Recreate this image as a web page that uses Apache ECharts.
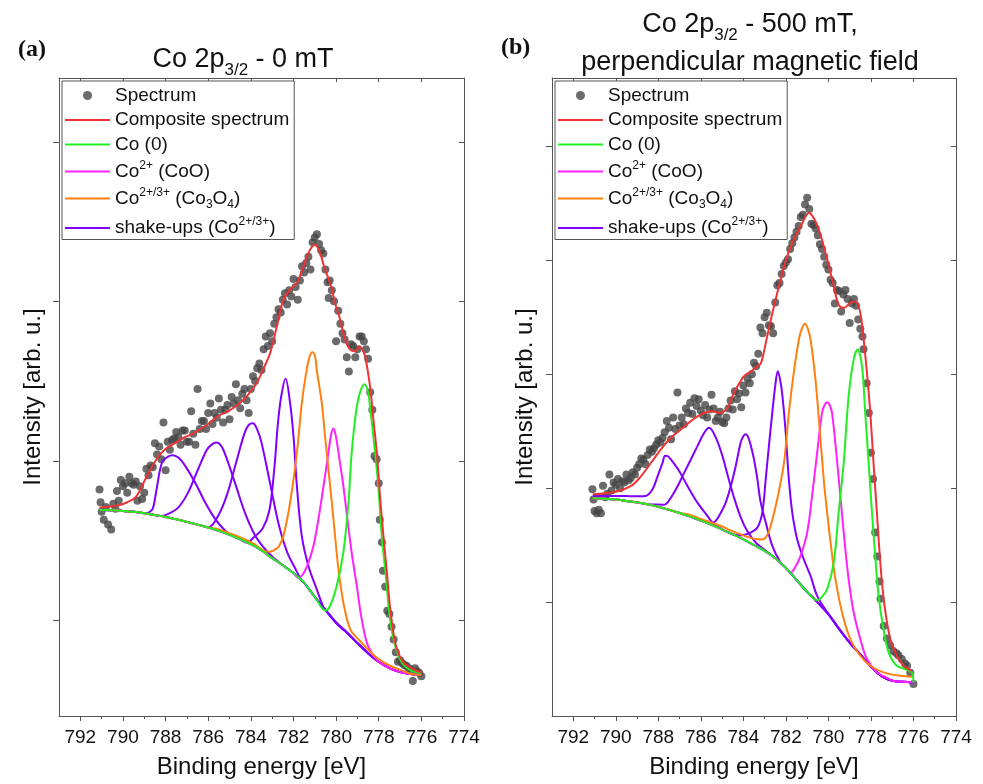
<!DOCTYPE html>
<html><head><meta charset="utf-8">
<script src="https://cdn.jsdelivr.net/npm/echarts@6/dist/echarts.min.js"></script>
<style>html,body{margin:0;padding:0;background:#fff}#c{width:983px;height:784px}</style>
</head><body><div id="c"></div>
<script>
// ---------- tick labels ----------
const energyTicks = [774,776,778,780,782,784,786,788,790,792];
const energyMinor = [775,777,779,781,783,785,787,789,791];
const intensityTicksA = [0,100,200,300];
const intensityTicksB = [100,200,300,400,500];

// ---------- panel (a) : 0 mT ----------
const spectrumA = [[791.1,82],[791.05,74],[791.0,68],[790.9,63],[790.8,71],[790.7,60],[790.55,57],[790.45,73],[790.35,70],[790.28,81],[790.2,75],[790.1,88],[790.0,84],[789.9,86],[789.8,80],[789.7,90],[789.6,86],[789.5,85],[789.4,87],[789.32,75],[789.2,84],[789.1,76],[789.0,80],[788.9,95],[788.8,91],[788.7,97],[788.6,96],[788.5,111],[788.4,104],[788.3,109],[788.2,101],[788.1,124],[788.0,94],[787.9,112],[787.8,107],[787.7,113],[787.6,114],[787.5,118],[787.4,115],[787.3,110],[787.2,119],[787.1,119],[787.0,112],[786.9,112],[786.8,131],[786.7,117],[786.6,110],[786.5,145],[786.4,120],[786.3,125],[786.2,125],[786.1,120],[786.0,130],[785.9,136],[785.8,123],[785.7,130],[785.6,127],[785.5,139],[785.4,132],[785.3,124],[785.2,132],[785.1,135],[785.0,126],[784.9,140],[784.8,136],[784.7,148],[784.6,138],[784.5,133],[784.4,142],[784.3,145],[784.2,138],[784.1,130],[784.0,145],[783.9,153],[783.8,150],[783.7,158],[783.6,161],[783.5,157],[783.4,170],[783.3,178],[783.2,172],[783.1,180],[783.0,175],[782.9,186],[782.8,190],[782.7,195],[782.6,193],[782.5,201],[782.4,205],[782.3,198],[782.2,207],[782.1,203],[782.0,214],[781.9,209],[781.8,201],[781.7,213],[781.6,222],[781.5,218],[781.4,224],[781.3,228],[781.2,220],[781.1,237],[781.0,240],[780.9,242],[780.8,236],[780.7,232],[780.6,230],[780.5,220],[780.4,212],[780.35,202],[780.3,213],[780.2,207],[780.1,200],[780.0,175],[779.9,194],[779.8,186],[779.7,180],[779.6,176],[779.5,165],[779.4,156],[779.3,173],[779.2,172],[779.1,165],[779.0,170],[778.9,178],[778.8,178],[778.7,175],[778.6,170],[778.5,164],[778.4,143],[778.3,132],[778.2,103],[778.1,101],[778.0,86],[777.95,63],[777.85,49],[777.8,31],[777.7,21],[777.6,6],[777.5,4],[777.4,-4],[777.3,-12],[777.2,-20],[777.1,-26],[777.0,-25],[776.9,-27],[776.8,-28],[776.7,-28.5],[776.6,-30],[776.5,-31],[776.4,-38],[776.3,-30],[776.2,-32],[776.1,-33],[776.0,-35]];
const compositeA = [[791.1,70.7],[790.6,71.3],[790.2,72.1],[789.8,74],[789.42,77],[789.2,81.5],[788.95,88.4],[788.7,94.5],[788.48,99.9],[788.25,104],[788.02,107.2],[787.7,110],[787.39,112.4],[787.08,115],[786.77,116.6],[786.45,119.2],[786.14,121.8],[785.83,125],[785.52,128.1],[785.05,131.2],[784.58,135.4],[784.11,141.7],[783.72,149],[783.4,158],[783.09,167.7],[782.78,184.4],[782.47,201.1],[782.16,207.3],[781.84,211.5],[781.53,221.9],[781.22,232.4],[780.98,235.5],[780.75,230.2],[780.52,219.8],[780.28,211.5],[780.05,199],[779.81,188.5],[779.58,176],[779.34,169.7],[779.11,168.7],[778.91,171.8],[778.78,170],[778.64,165.6],[778.41,146.8],[778.25,125.9],[778.09,105.1],[777.94,77.9],[777.78,52.9],[777.63,32],[777.44,4.9],[777.19,-16],[776.84,-26.4],[776.38,-30.6],[775.98,-32.7]];
const backgroundA = [[791.1,69.3],[790.5,69.0],[790.0,68.6],[789.5,68.0],[789.0,67.1],[788.5,66.0],[788.0,64.8],[787.5,63.3],[787.0,61.7],[786.5,60.0],[786.0,58.2],[785.5,56.0],[785.0,53.6],[784.5,50.8],[784.0,47.7],[783.5,43.8],[783.0,39.0],[782.5,34.5],[782.0,29.6],[781.5,23.5],[781.0,14.7],[780.5,6.5],[780.0,-1.5],[779.5,-7.6],[779.0,-14.3],[778.5,-20.6],[778.0,-26.0],[777.5,-30.0],[777.0,-32.5],[776.5,-33.7],[776.0,-34.2]];
const co0A = [[780.5,6.2],[780.28,9.1],[779.97,21.6],[779.66,42.5],[779.42,73.7],[779.27,105],[779.03,134],[778.85,144],[778.67,148],[778.5,143],[778.41,134],[778.17,105],[778.02,84],[777.86,53],[777.7,32],[777.47,1],[777.23,-16],[776.92,-26.4],[776.53,-31.2],[776.0,-33.2]];
const coOA = [[781.77,26.5],[781.53,29.5],[781.3,36.2],[781.06,46.7],[780.83,63.4],[780.59,84.2],[780.36,105.1],[780.24,116],[780.13,120.2],[780.02,116],[779.89,105.1],[779.66,84.2],[779.47,63.4],[779.27,42.5],[779.03,21.6],[778.8,0.7],[778.56,-13.9],[778.33,-20.5],[778.1,-24.5]];
const co3o4A = [[785.5,57],[784.5,52],[784.0,49],[783.6,45.5],[783.3,43.2],[783.09,43],[782.85,44.5],[782.7,46],[782.47,53],[782.16,73.7],[781.84,105],[781.61,136],[781.38,157],[781.24,165.5],[781.11,168],[780.98,165],[780.91,157],[780.67,136],[780.52,115.5],[780.36,94.6],[780.2,73.7],[780.05,53],[779.89,32],[779.66,11.2],[779.34,-5.5],[778.95,-12],[778.56,-17.5],[778.09,-23.5],[777.47,-28.5],[776.8,-32]];
const shake1A = [[784.2,48.7],[783.83,52.5],[783.44,57.7],[783.13,69],[782.9,95],[782.74,122],[782.58,140],[782.37,151.5],[782.16,136.3],[782.0,115.5],[781.84,84.2],[781.61,52.9],[781.3,34.1],[780.91,19.5],[780.59,8]];
const shake2A = [[786.0,58.2],[785.5,66.4],[785.1,79.5],[784.7,98.5],[784.3,117.2],[784.1,122.5],[783.9,123.6],[783.7,119.5],[783.5,111.4],[783.1,86],[782.7,60.6],[782.3,42.9],[781.9,32],[781.6,24.5]];
const shake3A = [[788.2,65.4],[787.87,66.8],[787.42,70.5],[786.97,79.4],[786.52,93.3],[786.07,106.8],[785.85,110],[785.62,111.4],[785.4,109.5],[785.17,102.8],[784.72,85.2],[784.27,67.2],[783.82,53.7],[783.37,45.2],[783.0,40]];
const shake4A = [[788.8,67.5],[788.6,70],[788.45,80],[788.17,98.9],[787.9,102.5],[787.67,103.5],[787.4,102],[787.08,96.8],[786.61,86.3],[786.14,73.8],[785.67,63.4],[785.2,56.1],[784.9,53.2]];

// ---------- panel (b) : 500 mT ----------
const spectrumB = [[791.1,199],[791.05,190],[791.0,180],[790.9,178],[790.8,181],[790.7,178],[790.6,202],[790.5,192],[790.4,195],[790.3,212],[790.2,198],[790.1,205],[790.0,203],[789.9,208],[789.8,200],[789.7,206],[789.6,205],[789.5,212],[789.4,207],[789.3,209],[789.2,214],[789.1,212],[789.0,218],[788.9,221],[788.8,226],[788.7,225],[788.6,221],[788.5,229],[788.4,234],[788.3,232],[788.2,235],[788.1,238],[788.0,242],[787.9,240],[787.8,244],[787.7,249],[787.6,259],[787.5,253],[787.4,243],[787.3,262],[787.2,252],[787.1,284],[787.0,255],[786.9,262],[786.8,256],[786.7,270],[786.6,266],[786.5,275],[786.4,265],[786.3,279],[786.2,272],[786.1,278],[786.0,268],[785.9,264],[785.8,273],[785.7,262],[785.6,269],[785.5,282],[785.4,270],[785.3,259],[785.2,262],[785.1,267],[785.0,258],[784.9,257],[784.8,262],[784.7,270],[784.6,277],[784.5,269],[784.4,285],[784.3,278],[784.2,283],[784.1,271],[784.0,290],[783.9,284],[783.8,296],[783.7,292],[783.6,300],[783.5,310],[783.4,307],[783.3,318],[783.2,341],[783.1,336],[783.0,350],[782.9,354],[782.8,343],[782.7,342],[782.6,336],[782.5,363],[782.4,378],[782.3,380],[782.2,388],[782.1,395],[782.0,398],[781.9,401],[781.8,410],[781.7,415],[781.6,420],[781.5,425],[781.4,430],[781.3,438],[781.2,440],[781.1,449],[781.0,455],[780.9,445],[780.8,432],[780.7,431],[780.6,428],[780.5,422],[780.4,414],[780.3,410],[780.2,403],[780.1,396],[780.0,392],[779.9,383],[779.8,380],[779.7,362],[779.6,374],[779.5,373],[779.4,355],[779.3,370],[779.2,374],[779.1,366],[779.0,345],[778.9,362],[778.8,366],[778.7,360],[778.6,348],[778.5,340],[778.4,333],[778.35,322],[778.2,292],[778.1,266],[778.0,231],[777.9,208],[777.8,161],[777.7,140],[777.6,118],[777.55,103],[777.4,79],[777.25,68],[777.1,62],[776.95,57],[776.8,55],[776.7,53],[776.55,50],[776.4,46],[776.3,44],[776.15,38],[776.0,28]];
const compositeB = [[791.08,194.6],[790.06,196.6],[789.28,201.9],[788.81,210.6],[788.34,222.3],[787.88,234],[787.41,244.2],[786.94,251.5],[786.47,258.8],[786.0,264.7],[785.53,267.6],[785.06,266.1],[784.75,270.5],[784.44,283.7],[784.13,293.9],[783.97,298.3],[783.6,303],[783.34,307],[783.19,309],[783.03,320],[782.88,333.3],[782.56,359.6],[782.25,383],[781.94,403.4],[781.63,418],[781.23,432.6],[780.92,441.4],[780.69,437],[780.45,426.8],[780.22,412.2],[779.98,394.7],[779.75,377.2],[779.52,361.1],[779.28,358.2],[778.97,362.6],[778.73,364],[778.5,353.8],[778.31,324.6],[778.16,295.4],[778.03,266.1],[777.88,222.3],[777.72,178.5],[777.56,134.7],[777.38,99.6],[777.09,67.5],[776.78,52.9],[776.47,44.1],[776.08,39.7]];
const backgroundB = [[791.1,191.2],[790.5,190.6],[790.0,190.0],[789.5,188.8],[789.0,187.5],[788.5,185.8],[788.0,183.6],[787.5,181.0],[787.0,178.2],[786.5,175.0],[786.0,171.5],[785.5,167.8],[785.0,163.8],[784.5,159.5],[784.0,155.0],[783.5,150.0],[783.0,145.0],[782.5,138.5],[782.0,130.0],[781.5,119.5],[781.0,109.0],[780.5,99.5],[780.0,89.5],[779.5,76.5],[779.0,64.5],[778.5,54.0],[778.0,43.5],[777.5,35.0],[777.0,31.0],[776.5,30.0],[776.0,29.5]];
const co0B = [[780.53,101.5],[780.3,104.5],[780.06,111.3],[779.75,134.7],[779.52,178.5],[779.28,222.3],[779.05,280.7],[778.81,313],[778.63,321.6],[778.42,307],[778.27,266.1],[778.11,222.3],[777.95,178.5],[777.8,140.5],[777.64,105.5],[777.41,76.2],[777.17,55.8],[776.78,44.1],[776.08,38.3]];
const coOB = [[781.78,126],[781.55,131],[781.31,140.5],[781.0,161],[780.77,193.1],[780.53,231.1],[780.3,266.1],[780.18,273],[780.06,275.5],[779.94,273],[779.83,266.1],[779.63,231.1],[779.44,193.1],[779.25,155.1],[779.05,120.1],[778.81,90.9],[778.5,67.5],[778.19,50],[777.72,38.3],[777.2,33]];
const co3o4B = [[786.5,176.5],[786.0,173],[785.0,166.3],[784.5,162],[784.0,158.5],[783.5,155.5],[783.1,155],[782.9,158],[782.72,166.6],[782.41,190],[782.09,222.3],[781.86,266.1],[781.63,301.2],[781.39,330.4],[781.25,340],[781.11,344.4],[780.97,340],[780.84,330.4],[780.61,295.4],[780.41,251.5],[780.22,207.7],[780.06,178.5],[779.88,149.3],[779.67,120.1],[779.36,90.9],[778.97,67.5],[778.5,52.9],[778.03,44.1],[777.41,38.3],[776.63,35.3],[776.05,34.5]];
const shake1B = [[784.13,158.6],[783.66,161],[783.34,165.4],[783.11,178.5],[782.95,207.7],[782.8,236.9],[782.64,266.1],[782.5,290],[782.38,302.7],[782.27,295],[782.17,282],[782.02,251.5],[781.86,207.7],[781.7,178.5],[781.47,155.1],[781.16,137.6],[780.84,123],[780.53,105.5]];
const shake2B = [[785.45,169.7],[785.3,171.2],[785.06,178.5],[784.83,187.3],[784.59,201.9],[784.36,219.4],[784.13,239.9],[784.0,245.5],[783.89,247.2],[783.78,245],[783.66,238],[783.5,225.3],[783.34,207.7],[783.19,188],[782.95,170],[782.64,149.3],[782.25,134.7]];
const shake3B = [[788.1,185.6],[787.72,185.5],[787.41,191.6],[787.09,201.9],[786.78,213.6],[786.47,225.2],[786.16,236.9],[785.84,248.6],[785.61,253],[785.31,245],[785.01,229.7],[784.71,209.3],[784.41,189.9],[784.11,173.7],[783.81,162.1],[783.41,152.1],[783.0,145.8]];
const shake4B = [[791.08,193],[790.5,193.2],[790.0,193.2],[789.5,193],[789.0,192.8],[788.7,192.8],[788.5,194],[788.27,199],[788.03,210.6],[787.8,222.3],[787.68,228.5],[787.55,228],[787.41,225.2],[787.02,215],[786.63,201.9],[786.16,187.3],[785.69,175.6],[785.45,169.7]];

// ---------- styling ----------
const FONT = 'Liberation Sans, Arial, sans-serif';
const C = { spec:'#464646', comp:'#ee3333', co0:'#22ee22', coo:'#ff22ff', co3o4:'#ff8010', shake:'#8000ff', axis:'#555' };
const NAMES = { spec:'Spectrum', comp:'Composite spectrum', co0:'Co (0)', coo:'Co2+ (CoO)', co3o4:'Co2+/3+ (Co3O4)', shake:'shake-ups (Co2+/3+)' };
const legendRich = {
  'Spectrum':'{n|Spectrum}',
  'Composite spectrum':'{n|Composite spectrum}',
  'Co (0)':'{n|Co (0)}',
  'Co2+ (CoO)':'{n|Co}{sup|2+}{n| (CoO)}',
  'Co2+/3+ (Co3O4)':'{n|Co}{sup|2+/3+}{n| (Co}{sub|3}{n|O}{sub|4}{n|)}',
  'shake-ups (Co2+/3+)':'{n|shake-ups (Co}{sup|2+/3+}{n|)}'
};
const LINE_ICON = 'path://M0,0H45V2H0Z';

// component curve = background outside the peak's span + the peak's own points
function withBackground(bg, peak) {
  const xs = peak.map(p => p[0]);
  const lo = Math.min(...xs), hi = Math.max(...xs);
  return bg.filter(p => p[0] > hi + 0.05 || p[0] < lo - 0.05).concat(peak).sort((a, b) => b[0] - a[0]);
}

function panelSeries(k, spec, comp, bg, co0, coo, co3o4, shakes) {
  const ax = { xAxisIndex: 3 * k, yAxisIndex: 2 * k };
  const line = (name, color, data, z) => Object.assign({
    type: 'line', name, data, smooth: 0.35, symbol: 'none', showSymbol: false,
    lineStyle: { color, width: 2 }, itemStyle: { color, borderWidth: 0 }, z, silent: true
  }, ax);
  const out = [];
  out.push(Object.assign({ type: 'scatter', name: NAMES.spec, data: spec, symbol: 'circle', symbolSize: 8,
    itemStyle: { color: C.spec }, z: 2, silent: true }, ax));
  shakes.forEach(s => out.push(line(NAMES.shake, C.shake, withBackground(bg, s), 3)));
  out.push(line(NAMES.coo, C.coo, withBackground(bg, coo), 4));
  out.push(line(NAMES.co3o4, C.co3o4, withBackground(bg, co3o4), 5));
  out.push(line(NAMES.co0, C.co0, withBackground(bg, co0), 6));
  out.push(line(NAMES.comp, C.comp, comp, 7));
  return out;
}

function xAxes(grid) {
  const common = { gridIndex: grid, type: 'value', min: 774, max: 793, inverse: true, splitLine: { show: false } };
  return [
    Object.assign({}, common, {
      position: 'bottom',
      axisLine: { show: true, onZero: false, lineStyle: { color: C.axis, width: 1 } },
      axisTick: { show: true, inside: false, length: 5, customValues: energyTicks, lineStyle: { color: C.axis } },
      axisLabel: { show: true, customValues: energyTicks, fontSize: 19, color: '#111', margin: 12, fontFamily: FONT },
      name: 'Binding energy [eV]', nameLocation: 'middle', nameGap: 39,
      nameTextStyle: { fontSize: 24, color: '#111', fontFamily: FONT }
    }),
    Object.assign({}, common, {
      position: 'bottom',
      axisLine: { show: false, onZero: false },
      axisTick: { show: true, inside: false, length: 3, customValues: energyMinor, lineStyle: { color: C.axis } },
      axisLabel: { show: false }
    }),
    Object.assign({}, common, {
      position: 'top',
      axisLine: { show: true, onZero: false, lineStyle: { color: C.axis, width: 1 } },
      axisTick: { show: true, inside: true, length: 4, customValues: energyTicks, lineStyle: { color: C.axis } },
      axisLabel: { show: false }
    })
  ];
}
function yAxes(grid, min, max, ticks, gap) {
  const common = { gridIndex: grid, type: 'value', min, max, splitLine: { show: false } };
  return [
    Object.assign({}, common, {
      position: 'left',
      axisLine: { show: true, onZero: false, lineStyle: { color: C.axis, width: 1 } },
      axisTick: { show: true, inside: false, length: 6, customValues: ticks, lineStyle: { color: C.axis } },
      axisLabel: { show: false },
      name: 'Intensity [arb. u.]', nameLocation: 'middle', nameGap: gap, nameRotate: 90,
      nameTextStyle: { fontSize: 24, color: '#111', fontFamily: FONT }
    }),
    Object.assign({}, common, {
      position: 'right',
      axisLine: { show: true, onZero: false, lineStyle: { color: C.axis, width: 1 } },
      axisTick: { show: true, inside: true, length: 5, customValues: ticks, lineStyle: { color: C.axis } },
      axisLabel: { show: false }
    })
  ];
}
function legendFor(left) {
  return {
    orient: 'vertical', left, top: 81, padding: [5, 5, 2, 3], itemGap: 5.5,
    itemWidth: 45, itemHeight: 9, selectedMode: false, symbolKeepAspect: true,
    backgroundColor: '#fff', borderColor: '#555', borderWidth: 1, borderRadius: 0,
    itemStyle: { borderWidth: 0 },
    data: [
      { name: NAMES.spec, icon: 'circle' },
      { name: NAMES.comp, icon: LINE_ICON },
      { name: NAMES.co0, icon: LINE_ICON },
      { name: NAMES.coo, icon: LINE_ICON },
      { name: NAMES.co3o4, icon: LINE_ICON },
      { name: NAMES.shake, icon: LINE_ICON }
    ],
    formatter: n => legendRich[n],
    textStyle: {
      rich: {
        n: { fontSize: 19, lineHeight: 24, color: '#111', fontFamily: FONT },
        sup: { fontSize: 12, lineHeight: 12, verticalAlign: 'top', color: '#111', fontFamily: FONT },
        sub: { fontSize: 12, lineHeight: 12, verticalAlign: 'bottom', color: '#111', fontFamily: FONT }
      }
    }
  };
}
const titleRich = {
  n: { fontSize: 27, lineHeight: 38, color: '#111', fontFamily: FONT, fontWeight: 'normal' },
  sub: { fontSize: 17, lineHeight: 22, verticalAlign: 'bottom', color: '#111', fontFamily: FONT, fontWeight: 'normal' }
};

const chart = echarts.init(document.getElementById('c'), null, { renderer: 'canvas' });
chart.setOption({
  animation: false,
  backgroundColor: '#fff',
  title: [
    { text: '{n|Co 2p}{sub|3/2}{n| - 0 mT}', left: 238, top: 36, textAlign: 'center', textStyle: { fontWeight: 'normal', rich: titleRich } },
    { text: '{n|Co 2p}{sub|3/2}{n| - 500 mT,}\n{n|perpendicular magnetic field}', left: 745, top: 1, textAlign: 'center', textStyle: { align: 'center', fontWeight: 'normal', rich: titleRich } },
    { text: '(a)', left: 13, top: 33, textStyle: { fontSize: 24, fontWeight: 'bold', fontFamily: 'Liberation Serif, Times New Roman, serif', color: '#111' } },
    { text: '(b)', left: 496, top: 31, textStyle: { fontSize: 24, fontWeight: 'bold', fontFamily: 'Liberation Serif, Times New Roman, serif', color: '#111' } }
  ],
  legend: [legendFor(62), legendFor(555)],
  grid: [
    { left: 59, right: 519, top: 78, bottom: 67 },
    { left: 552, right: 27, top: 78, bottom: 67 }
  ],
  xAxis: xAxes(0).concat(xAxes(1)),
  yAxis: yAxes(0, -60, 340, intensityTicksA, 14).concat(yAxes(1, 0, 560, intensityTicksB, 15)),
  series: panelSeries(0, spectrumA, compositeA, backgroundA, co0A, coOA, co3o4A, [shake1A, shake2A, shake3A, shake4A])
    .concat(panelSeries(1, spectrumB, compositeB, backgroundB, co0B, coOB, co3o4B, [shake1B, shake2B, shake3B, shake4B]))
});
</script></body></html>
